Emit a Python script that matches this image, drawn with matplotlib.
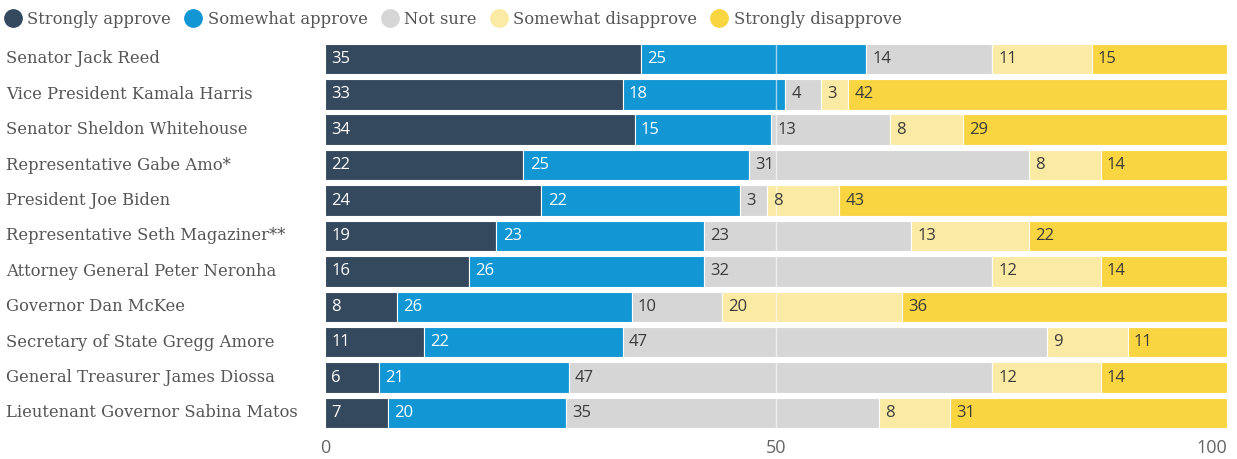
import matplotlib
matplotlib.use("Agg")
import matplotlib.pyplot as plt
from matplotlib.lines import Line2D
import matplotlib.transforms as mtransforms

# Approval ratings of Rhode Island officials (percent)
officials = [
    "Senator Jack Reed",
    "Vice President Kamala Harris",
    "Senator Sheldon Whitehouse",
    "Representative Gabe Amo*",
    "President Joe Biden",
    "Representative Seth Magaziner**",
    "Attorney General Peter Neronha",
    "Governor Dan McKee",
    "Secretary of State Gregg Amore",
    "General Treasurer James Diossa",
    "Lieutenant Governor Sabina Matos",
]
strongly_approve = [35, 33, 34, 22, 24, 19, 16, 8, 11, 6, 7]
somewhat_approve = [25, 18, 15, 25, 22, 23, 26, 26, 22, 21, 20]
not_sure = [14, 4, 13, 31, 3, 23, 32, 10, 47, 47, 35]
somewhat_disapprove = [11, 3, 8, 8, 8, 13, 12, 20, 9, 12, 8]
strongly_disapprove = [15, 42, 29, 14, 43, 22, 14, 36, 11, 14, 31]

series_names = ["Strongly approve", "Somewhat approve", "Not sure",
                "Somewhat disapprove", "Strongly disapprove"]
series_values = [strongly_approve, somewhat_approve, not_sure,
                 somewhat_disapprove, strongly_disapprove]
colors = ["#35495e", "#1396d4", "#d6d6d6", "#fbeaa3", "#f9d641"]
label_colors = ["white", "white", "#3a3a3a", "#3a3a3a", "#3a3a3a"]

x_ticks = [0, 50, 100]

SERIF = "DejaVu Serif"
SANS = "Open Sans"

fig = plt.figure(figsize=(12.37, 4.59), dpi=100)
ax = fig.add_axes([325 / 1237, 0.0617, 902 / 1237, 0.8486])

n = len(officials)
ypos = list(range(n))
# Each row is scaled so its rounded shares fill the 0-100 range
row_totals = [sum(v) for v in zip(*series_values)]
lefts = [0.0] * n
for name, vals, col, tcol in zip(series_names, series_values, colors, label_colors):
    widths = [v * 100.0 / t for v, t in zip(vals, row_totals)]
    ax.barh(ypos, widths, left=lefts, height=0.86, color=col,
            edgecolor="white", linewidth=0.8, zorder=2)
    for y, l, v in zip(ypos, lefts, vals):
        ax.annotate(str(v), xy=(l, y), xytext=(4.5, 0), textcoords="offset points",
                    ha="left", va="center", color=tcol, fontsize=12,
                    family=SANS, zorder=4)
    lefts = [a + b for a, b in zip(lefts, widths)]

ax.axvline(50, color="white", lw=1, alpha=0.6, zorder=3)

ax.set_xlim(0, 100)
ax.set_ylim(n - 0.5, -0.5)
ax.set_yticks([])
ax.set_xticks(x_ticks)
ax.set_xticklabels([str(t) for t in x_ticks], family=SANS, fontsize=13, color="#666666")
ax.get_xticklabels()[-1].set_ha("right")
ax.tick_params(axis="x", length=0, pad=6)
for s in ax.spines.values():
    s.set_visible(False)

# Row labels, left-aligned at the figure edge
trans = mtransforms.blended_transform_factory(fig.transFigure, ax.transData)
for y, name in zip(ypos, officials):
    ax.text(6 / 1237, y, name, transform=trans, ha="left", va="center",
            fontsize=11.8, family=SERIF, color="#555555")

handles = [Line2D([], [], marker="o", linestyle="none", markersize=12.5,
                  markerfacecolor=c, markeredgecolor=c) for c in colors]
leg = fig.legend(handles, series_names, loc="upper left", bbox_to_anchor=(-0.0095, 1.009),
                 ncol=5, frameon=False, handletextpad=0.28, columnspacing=0.75,
                 handlelength=1.2, prop={"family": SERIF, "size": 11.8})
for t in leg.get_texts():
    t.set_color("#555555")

fig.savefig("out.png", dpi=100)
